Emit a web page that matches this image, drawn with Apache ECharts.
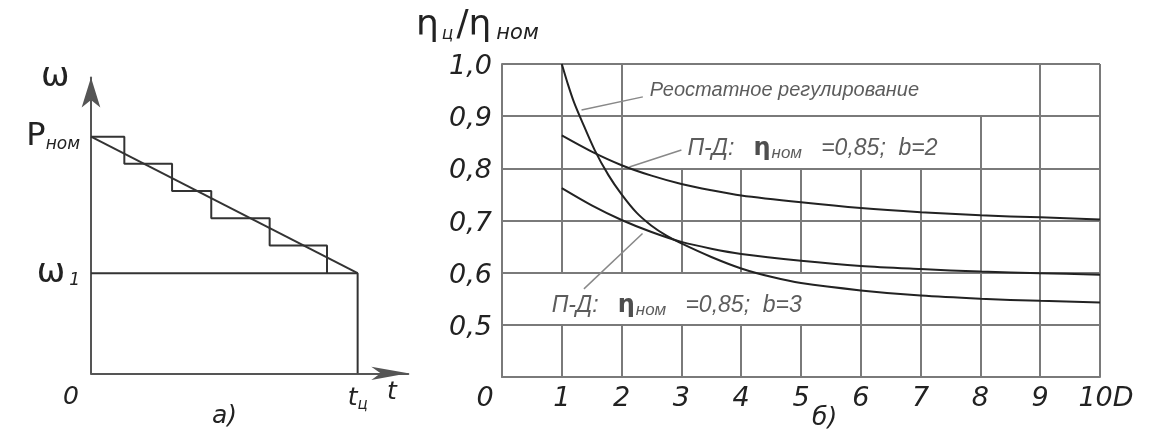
<!DOCTYPE html>
<html>
<head>
<meta charset="utf-8">
<script src="https://cdn.jsdelivr.net/npm/echarts@6/dist/echarts.min.js"></script>
<style>
html, body { margin: 0; padding: 0; background: #fff; }
#main { width: 1157px; height: 441px; }
</style>
</head>
<body>
<div id="main"></div>
<script>
// ---- панель а): ступенчатое регулирование ----
const stepT = [0, 0.125, 0.304, 0.451, 0.670, 0.885]
const stepW = [1.0, 0.885, 0.77, 0.655, 0.54, 0.423]
const tCycle = 1
const wNom = 1
const w1 = 0.423

// ---- панель б): ηц/ηном от диапазона D ----
const dRheo = [1, 1.1, 1.2, 1.33, 1.55, 1.78, 2, 2.25, 2.5, 2.75, 3, 3.5, 4, 4.5, 5, 6, 7, 8, 9, 10]
const rheostat = [1.0, 0.962, 0.928, 0.892, 0.835, 0.787, 0.750, 0.715, 0.690, 0.671, 0.656, 0.630, 0.608, 0.592, 0.580, 0.566, 0.556, 0.550, 0.546, 0.543]
const dPD = [1, 1.5, 2, 2.5, 3, 3.5, 4, 5, 6, 7, 8, 9, 10]
const pdB2 = [0.863, 0.832, 0.806, 0.786, 0.770, 0.758, 0.748, 0.735, 0.724, 0.716, 0.710, 0.706, 0.702]
const pdB3 = [0.762, 0.729, 0.701, 0.678, 0.659, 0.646, 0.636, 0.623, 0.613, 0.607, 0.602, 0.599, 0.596]
const xTicks = ['0', '1', '2', '3', '4', '5', '6', '7', '8', '9', '10D']
const yTicks = ['', '0,5', '0,6', '0,7', '0,8', '0,9', '1,0'] // от 0,4 до 1,0

// вертикальные линии сетки: [D, верх, низ] (разрывы под надписи)
const vGrid = [
  [1, 1.0, 0.6], [1, 0.5, 0.4], [2, 1.0, 0.6], [2, 0.5, 0.4],
  [3, 0.8, 0.6], [3, 0.5, 0.4], [4, 0.8, 0.6], [4, 0.5, 0.4],
  [5, 0.8, 0.6], [5, 0.5, 0.4], [6, 0.8, 0.4], [7, 0.8, 0.4],
  [8, 0.9, 0.4], [9, 1.0, 0.4], [10, 1.0, 0.4]
]
// выноски к кривым
const leaders = [
  [[1.33, 0.912], [2.355, 0.937]],
  [[2.13, 0.8025], [3.0, 0.835]],
  [[1.37, 0.569], [2.35, 0.675]]
]
const notes = [
  { name: '{a|Реостатное регулирование}', value: [2.47, 0.95] },
  { name: '{b|П-Д:   }{e|η}{s|ном}{b|   =0,85;  b=2}', value: [3.1, 0.838] },
  { name: '{b|П-Д:   }{e|η}{s|ном}{b|   =0,85;  b=3}', value: [0.83, 0.537] }
]

const FONT = 'DejaVu Sans'
const INK = '#222'
const GRID = '#7a7a7a'

const zip = (xs, ys) => xs.map((x, i) => [x, ys[i]])

const chartBox = echarts.init(document.getElementById('main'))

const noteRich = {
  a: { fontFamily: 'Liberation Sans', fontStyle: 'italic', fontSize: 20, color: '#333' },
  b: { fontFamily: 'Liberation Sans', fontStyle: 'italic', fontSize: 23, color: '#333' },
  e: { fontFamily: FONT, fontWeight: 'bold', fontSize: 24, color: '#222' },
  s: { fontFamily: 'Liberation Sans', fontStyle: 'italic', fontSize: 17, color: '#333', padding: [9, 0, 0, 1] }
}

const curve = (name, data) => ({
  name, type: 'line', xAxisIndex: 1, yAxisIndex: 1,
  symbol: 'none', smooth: 0.3, silent: true,
  lineStyle: { color: INK, width: 2 },
  data
})

const option = {
  animation: false,
  grid: [
    { left: 91, top: 77.5, width: 317.3, height: 295.8 },
    { left: 502, top: 64, width: 598, height: 313 }
  ],
  xAxis: [
    {
      gridIndex: 0, type: 'value', min: 0, max: 1.19,
      axisLine: { show: true, symbol: ['none', 'arrow'], symbolSize: [10, 37], lineStyle: { color: '#555', width: 2 } },
      axisTick: { show: false },
      splitLine: { show: false },
      axisLabel: {
        customValues: [0, tCycle],
        margin: 12,
        formatter: v => (v === 0 ? '{z|0}' : '{t|t}{s|ц}'),
        rich: {
          z: { fontFamily: FONT, fontStyle: 'italic', fontSize: 25, color: INK, padding: [0, 40, 0, 0] },
          t: { fontFamily: FONT, fontStyle: 'italic', fontSize: 25, color: INK },
          s: { fontFamily: FONT, fontStyle: 'italic', fontSize: 15, color: INK, padding: [12, 0, 0, 0] }
        }
      }
    },
    {
      gridIndex: 1, type: 'value', min: 0, max: 10, interval: 1,
      axisLine: { show: true, lineStyle: { color: GRID, width: 2 } },
      axisTick: { show: false },
      splitLine: { show: false },
      axisLabel: {
        margin: 8,
        showMinLabel: true,
        showMaxLabel: true,
        formatter: v => (v === 0 ? '{z|0}' : v === 10 ? '{d|10D}' : '{n|' + xTicks[v] + '}'),
        rich: {
          z: { fontFamily: FONT, fontStyle: 'italic', fontSize: 27, color: INK, padding: [0, 34, 0, 0] },
          n: { fontFamily: FONT, fontStyle: 'italic', fontSize: 27, color: INK },
          d: { fontFamily: FONT, fontStyle: 'italic', fontSize: 27, color: INK, padding: [0, 0, 0, 12] }
        }
      }
    }
  ],
  yAxis: [
    {
      gridIndex: 0, type: 'value', min: 0, max: 1.25,
      axisLine: { show: true, symbol: ['none', 'arrow'], symbolSize: [14, 30], lineStyle: { color: '#555', width: 2 } },
      axisTick: { show: false },
      splitLine: { show: false },
      axisLabel: {
        customValues: [w1, wNom],
        margin: 11,
        formatter: v => (v === wNom ? '{p|P}{s|ном}' : '{w|ω}{o|1}'),
        rich: {
          p: { fontFamily: FONT, fontSize: 32, color: INK },
          w: { fontFamily: FONT, fontSize: 34, color: INK },
          s: { fontFamily: FONT, fontStyle: 'italic', fontSize: 17, color: INK, padding: [16, 0, 0, 0] },
          o: { fontFamily: FONT, fontStyle: 'italic', fontSize: 17, color: INK, padding: [14, 0, 0, 4] }
        }
      }
    },
    {
      gridIndex: 1, type: 'value', min: 0.4, max: 1.0, interval: 0.1,
      axisLine: { show: true, lineStyle: { color: GRID, width: 2 } },
      axisTick: { show: false },
      splitLine: { show: true, lineStyle: { color: GRID, width: 2 } },
      axisLabel: {
        margin: 10,
        formatter: v => '{v|' + yTicks[Math.round((v - 0.4) * 10)] + '}',
        rich: {
          v: { fontFamily: FONT, fontStyle: 'italic', fontSize: 27, color: INK, padding: [6, 0, 0, 0] }
        }
      }
    }
  ],
  graphic: [
    { type: 'text', left: 41, top: 60, style: { text: 'ω', fontFamily: FONT, fontSize: 34, fill: INK } },
    { type: 'text', left: 387, top: 380, style: { text: 't', fontFamily: FONT, fontStyle: 'italic', fontSize: 25, fill: INK } },
    { type: 'text', left: 212, top: 404, style: { text: 'а)', fontFamily: FONT, fontStyle: 'italic', fontSize: 25, fill: INK } },
    { type: 'text', left: 812, top: 406, style: { text: 'б)', fontFamily: FONT, fontStyle: 'italic', fontSize: 25, fill: INK } },
    {
      type: 'text', left: 416, top: 8,
      style: {
        text: '{e|η}{c|ц}{e|/η}{n|ном}',
        rich: {
          e: { fontFamily: FONT, fontSize: 36, fill: INK, color: INK },
          c: { fontFamily: FONT, fontStyle: 'italic', fontSize: 17, fill: INK, color: INK, padding: [18, 3, 0, 3] },
          n: { fontFamily: FONT, fontStyle: 'italic', fontSize: 21, fill: INK, color: INK, padding: [16, 0, 0, 5] }
        }
      }
    }
  ],
  series: [
    // панель а
    {
      type: 'line', xAxisIndex: 0, yAxisIndex: 0, step: 'end', symbol: 'none', silent: true,
      lineStyle: { color: '#333', width: 2 },
      data: zip(stepT, stepW).concat([[stepT[stepT.length - 1], w1]])
    },
    {
      type: 'line', xAxisIndex: 0, yAxisIndex: 0, symbol: 'none', silent: true,
      lineStyle: { color: '#333', width: 2 },
      data: [[0, wNom], [tCycle, w1]]
    },
    {
      type: 'line', xAxisIndex: 0, yAxisIndex: 0, symbol: 'none', silent: true,
      lineStyle: { color: '#333', width: 2 },
      data: [[0, w1], [tCycle, w1], [tCycle, 0]]
    },
    // панель б: сетка
    {
      type: 'lines', coordinateSystem: 'cartesian2d', xAxisIndex: 1, yAxisIndex: 1, silent: true,
      lineStyle: { color: GRID, width: 2, opacity: 1 },
      data: vGrid.map(g => ({ coords: [[g[0], g[1]], [g[0], g[2]]] }))
    },
    {
      type: 'lines', coordinateSystem: 'cartesian2d', xAxisIndex: 1, yAxisIndex: 1, silent: true,
      lineStyle: { color: '#888', width: 1.5, opacity: 1 },
      data: leaders.map(c => ({ coords: c }))
    },
    // кривые
    curve('Реостатное регулирование', zip(dRheo, rheostat)),
    curve('b=2', zip(dPD, pdB2)),
    curve('b=3', zip(dPD, pdB3)),
    // надписи
    {
      type: 'scatter', xAxisIndex: 1, yAxisIndex: 1, symbolSize: 0, silent: true,
      label: {
        show: true, position: 'right', distance: 0,
        formatter: p => p.name,
        rich: noteRich
      },
      data: notes
    }
  ]
}
chartBox.setOption(option)
</script>
</body>
</html>
